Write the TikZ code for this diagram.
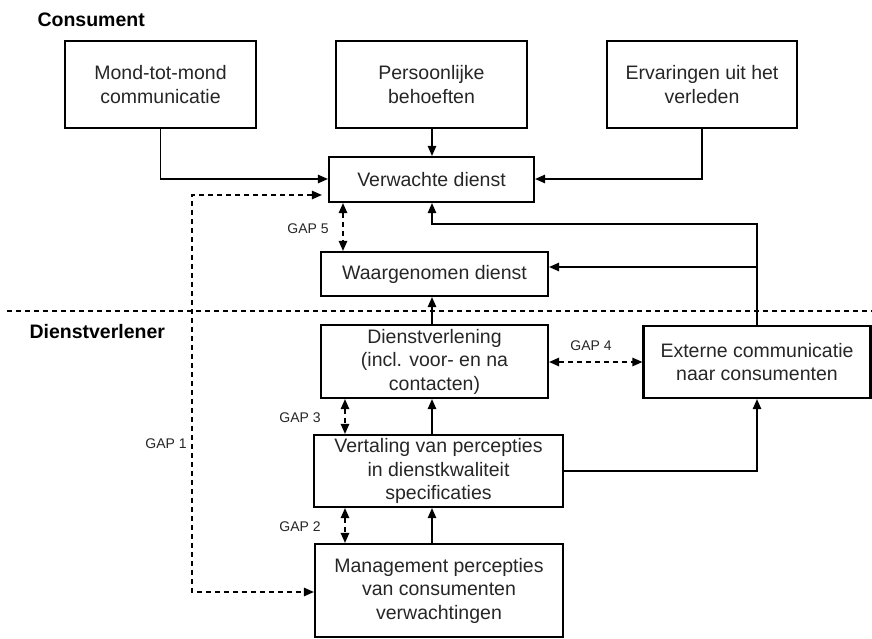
\documentclass[tikz,border=0pt]{standalone}
\usepackage{fontspec}
\setmainfont{Liberation Sans}
\usetikzlibrary{arrows.meta}
\begin{document}
\begin{tikzpicture}[x=1pt,y=-1pt,
  box/.style={draw,line width=2.2pt,align=center,inner sep=0pt,text=black!85,
    font=\fontsize{19.5}{23.5}\selectfont},
  tip/.tip={Triangle[length=10pt,width=8.5pt]},
  link/.style={line width=1.2pt,-tip},
  gap/.style={line width=1.2pt,dash pattern=on 5pt off 4pt,tip-tip},
  gaplabel/.style={font=\fontsize{14}{16}\selectfont,text=black!85},
  side/.style={font=\bfseries\fontsize{19.5}{22}\selectfont,anchor=west}]
\useasboundingbox (0,0) rectangle (872,639);

% side headings
\node[side] (cons) at (34,20) {Consument};
\node[side] (dv) at (26,332) {Dienstverlener};

% divider between consumer and provider
\coordinate (divl) at (7,311);
\coordinate (divr) at (872,311);
\draw[line width=1.2pt,dash pattern=on 5pt off 4pt] (divl) -- (divr);

% boxes
\node[box,minimum width=191pt,minimum height=87pt] (mond) at (160.5,84.5) {Mond-tot-mond\\communicatie};
\node[box,minimum width=191pt,minimum height=87pt] (pers) at (431.5,84.5) {Persoonlijke\\behoeften};
\node[box,minimum width=190pt,minimum height=87pt] (erv) at (702,84.5) {Ervaringen uit het\\verleden};
\node[box,minimum width=205pt,minimum height=45pt] (verw) at (431.5,179.5) {Verwachte dienst};
\node[box,minimum width=227pt,minimum height=44pt] (waar) at (434.5,274) {Waargenomen dienst};
\node[box,minimum width=227pt,minimum height=73pt] (dienst) at (434.5,361.5) {Dienstverlening\\(incl. voor- en na\\contacten)};
\node[box,minimum width=227pt,minimum height=72pt] (ext) at (757,362) {Externe communicatie\\naar consumenten};
\node[box,minimum width=249pt,minimum height=72pt] (vert) at (438.5,471) {Vertaling van percepties\\in dienstkwaliteit\\specificaties};
\node[box,minimum width=248pt,minimum height=93pt] (mgmt) at (439,590.5) {Management percepties\\van consumenten\\verwachtingen};

% helper coordinates for connector routes
\coordinate (vx) at (432,0);
\coordinate (ym) at (0,179);
\coordinate (fb) at (432,224);
\coordinate (yw) at (0,267);
\coordinate (g5) at (343,0);
\coordinate (g3) at (345,0);
\coordinate (g4) at (0,362);
\coordinate (g1top) at (192,195);
\coordinate (g1bot) at (192,592);

% solid connectors
\draw[link] (mond.south) |- (verw.west |- ym);
\draw[link] (pers.south -| vx) -- (verw.north -| vx);
\draw[link] (erv.south) |- (verw.east |- ym);
\draw[link] (ext.north) |- (fb) -- (verw.south -| vx);
\draw[link] (ext.north |- yw) -- (waar.east |- yw);
\draw[link] (dienst.north -| vx) -- (waar.south -| vx);
\draw[link] (vert.north -| vx) -- (dienst.south -| vx);
\draw[link] (mgmt.north -| vx) -- (vert.south -| vx);
\draw[link] (vert.east) -| (ext.south);

% gaps
\draw[gap] (verw.south -| g5) -- (waar.north -| g5);
\draw[gap] (dienst.east |- g4) -- (ext.west |- g4);
\draw[gap] (dienst.south -| g3) -- (vert.north -| g3);
\draw[gap] (vert.south -| g3) -- (mgmt.north -| g3);
\draw[gap,shorten <=6pt] (verw.west |- g1top) -- (g1top) -- (g1bot) -- (mgmt.west |- g1bot);

\node[gaplabel] (l5) at (308,229) {GAP 5};
\node[gaplabel] (l4) at (591,346) {GAP 4};
\node[gaplabel] (l3) at (300,418) {GAP 3};
\node[gaplabel] (l2) at (300,527) {GAP 2};
\node[gaplabel] (l1) at (166,444) {GAP 1};
\end{tikzpicture}
\end{document}
